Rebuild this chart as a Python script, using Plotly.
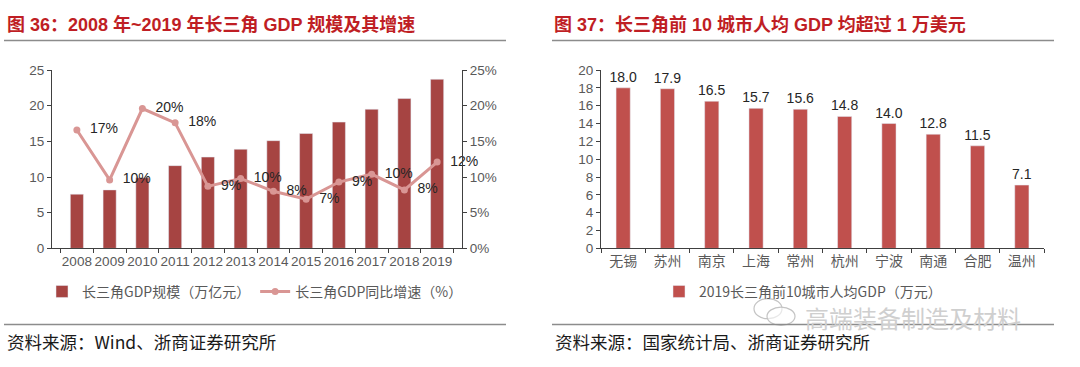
import plotly.graph_objects as go

# ---- data ----
years = ["2008", "2009", "2010", "2011", "2012", "2013", "2014", "2015", "2016", "2017", "2018", "2019"]
gdp_scale = [7.6, 8.2, 9.9, 11.6, 12.8, 13.9, 15.1, 16.1, 17.7, 19.5, 21.0, 23.7]
gdp_growth = [16.6, 9.6, 19.6, 17.6, 8.7, 9.8, 8.0, 6.9, 9.3, 10.4, 8.2, 12.1]

cities = ["无锡", "苏州", "南京", "上海", "常州", "杭州", "宁波", "南通", "合肥", "温州"]
per_capita = [18.0, 17.9, 16.5, 15.7, 15.6, 14.8, 14.0, 12.8, 11.5, 7.1]

left_title = "图 36：2008 年~2019 年长三角 GDP 规模及其增速"
right_title = "图 37：长三角前 10 城市人均 GDP 均超过 1 万美元"
left_source = "资料来源：Wind、浙商证券研究所"
right_source = "资料来源：国家统计局、浙商证券研究所"
bar_name = "长三角GDP规模（万亿元）"
line_name = "长三角GDP同比增速（%）"
right_name = "2019长三角前10城市人均GDP（万元）"
watermark = "高端装备制造及材料"

# ---- styles ----
W, H = 1080, 367
TICKFONT = dict(family="Liberation Sans, Arial, sans-serif", size=13.5, color="#595959")
CJK_TICK = dict(family="Noto Sans CJK SC, sans-serif", size=14, color="#595959")
AX = "#404040"
BAR1 = "#A64442"
LINE = "#D99694"
BAR2 = "#C0504D"
TITLE_RED = "#BF1E24"

def px_y(py):
    return (H - py) / H

def px_x(px):
    return px / W

fig = go.Figure()

fig.add_trace(go.Bar(
    x=years, y=gdp_scale, name=bar_name, marker_color=BAR1, width=0.4,
    xaxis="x", yaxis="y", legend="legend",
))
fig.add_trace(go.Scatter(
    x=years, y=gdp_growth, name=line_name, mode="lines+markers+text",
    line=dict(color=LINE, width=3), marker=dict(color=LINE, size=7),
    texttemplate="  %{y:.0f}%", textposition="middle right",
    textfont=dict(family="Liberation Sans, Arial, sans-serif", size=14, color="#262626"),
    cliponaxis=False, xaxis="x", yaxis="y2", legend="legend",
))
fig.add_trace(go.Bar(
    x=cities, y=per_capita, name=right_name, marker_color=BAR2, width=0.32,
    texttemplate="%{y:.1f}", textposition="outside", cliponaxis=False,
    constraintext="none",
    textfont=dict(family="Liberation Sans, Arial, sans-serif", size=14, color="#262626"),
    xaxis="x2", yaxis="y3", legend="legend2",
))

ydom = [px_y(251.7), px_y(65.7)]
common_x = dict(type="category", showline=True, linecolor=AX, linewidth=1,
                ticks="outside", tickson="boundaries", ticklen=4, tickcolor=AX,
                showgrid=False, zeroline=False, fixedrange=True, tickangle=0)
common_y = dict(showline=True, linecolor=AX, linewidth=1, ticks="outside",
                ticklen=4, tickcolor=AX, showgrid=False, zeroline=False,
                tickfont=TICKFONT)

LEGFONT = dict(family="Noto Sans CJK SC, sans-serif", size=14, color="#595959")

fig.update_layout(
    width=W, height=H, margin=dict(l=0, r=0, t=0, b=0),
    paper_bgcolor="white", plot_bgcolor="white",
    xaxis=dict(domain=[px_x(52), px_x(462)], anchor="y", tickfont=TICKFONT, **common_x),
    yaxis=dict(domain=ydom, range=[0, 25], dtick=5, anchor="x", **common_y),
    yaxis2=dict(overlaying="y", side="right", range=[0, 25], dtick=5,
                ticksuffix="%", anchor="x", **common_y),
    xaxis2=dict(domain=[px_x(601), px_x(1044)], anchor="y3", tickfont=CJK_TICK, **common_x),
    yaxis3=dict(domain=ydom, range=[0, 20], dtick=2, anchor="x2", **common_y),
    legend=dict(orientation="h", x=px_x(255), xanchor="center", y=px_y(297), yanchor="middle",
                font=LEGFONT, bgcolor="rgba(0,0,0,0)"),
    legend2=dict(orientation="h", x=px_x(803), xanchor="center", y=px_y(297), yanchor="middle",
                 font=LEGFONT, bgcolor="rgba(0,0,0,0)"),
    showlegend=True,
)

# titles
for txt, x0 in [(left_title, 5), (right_title, 552)]:
    fig.add_annotation(text="<b>" + txt + "</b>", xref="paper", yref="paper",
                       x=px_x(x0), y=px_y(18), xanchor="left", yanchor="middle",
                       showarrow=False,
                       font=dict(family="Liberation Sans, Noto Sans CJK SC, sans-serif",
                                 size=18, color=TITLE_RED))
# sources
for txt, x0 in [(left_source, 5), (right_source, 553)]:
    fig.add_annotation(text=txt, xref="paper", yref="paper",
                       x=px_x(x0), y=px_y(349), xanchor="left", yanchor="middle",
                       showarrow=False,
                       font=dict(family="Noto Sans CJK SC, sans-serif", size=17.5, color="#1a1a1a"))
# watermark text + simple chat-bubble icon
fig.add_annotation(text=watermark, xref="paper", yref="paper",
                   x=px_x(913), y=px_y(324), xanchor="center", yanchor="middle",
                   showarrow=False,
                   font=dict(family="Noto Sans CJK SC, sans-serif", size=24, color="#CFCFCF"))
for (ex0, ex1, ey0, ey1) in [(754, 782, 304, 325), (767, 795, 313, 332)]:
    fig.add_shape(type="circle", xref="paper", yref="paper",
                  x0=px_x(ex0), x1=px_x(ex1), y0=px_y(ey1), y1=px_y(ey0),
                  line=dict(color="#C4C4C4", width=1.2), fillcolor="rgba(255,255,255,0.6)")

# separator lines
for x0, x1 in [(4, 506), (552, 1054)]:
    for yy in (35, 331):
        fig.add_shape(type="line", xref="paper", yref="paper",
                      x0=px_x(x0), x1=px_x(x1), y0=px_y(yy), y1=px_y(yy),
                      line=dict(color="#8C8C8C", width=1.5))

fig.write_html("out.html", post_script="document.body.style.margin='0';",
               config={"displayModeBar": False})
